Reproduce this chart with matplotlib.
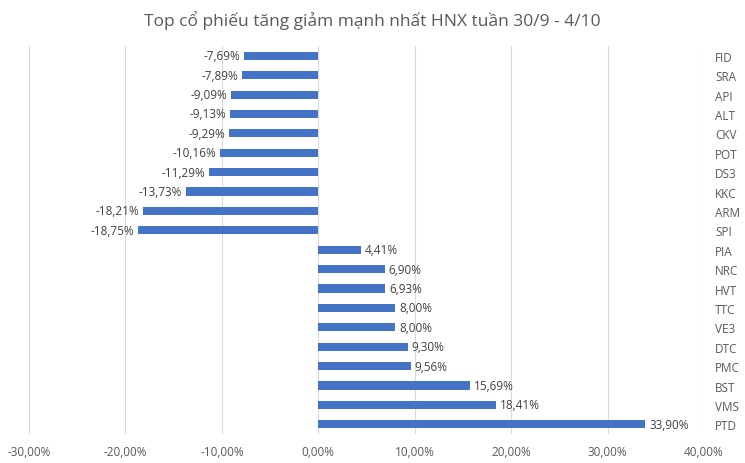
import matplotlib.pyplot as plt
from matplotlib.ticker import FuncFormatter

tickers = ['FID', 'SRA', 'API', 'ALT', 'CKV', 'POT', 'DS3', 'KKC', 'ARM', 'SPI',
           'PIA', 'NRC', 'HVT', 'TTC', 'VE3', 'DTC', 'PMC', 'BST', 'VMS', 'PTD']
changes = [-7.69, -7.89, -9.09, -9.13, -9.29, -10.16, -11.29, -13.73, -18.21, -18.75,
           4.41, 6.90, 6.93, 8.00, 8.00, 9.30, 9.56, 15.69, 18.41, 33.90]
title = 'Top cổ phiếu tăng giảm mạnh nhất HNX tuần 30/9 - 4/10'


def pct(v):
    return f'{v:.2f}%'.replace('.', ',')


def main():
    plt.rcParams['font.family'] = ['Open Sans', 'DejaVu Sans']
    fig = plt.figure(figsize=(7.45, 4.64), dpi=100)
    ax = fig.add_axes([0.039, 0.0625, 0.906, 0.836])

    y = list(range(len(tickers)))
    ax.barh(y, changes, height=0.42, color='#4472c4', zorder=2)
    ax.set_ylim(len(tickers) - 0.5, -0.5)
    ax.set_xlim(-30, 40)
    ax.set_xticks(range(-30, 41, 10))
    ax.xaxis.set_major_formatter(FuncFormatter(lambda v, _: pct(v)))
    ax.grid(axis='x', color='#d9d9d9', linewidth=0.8, zorder=0)
    ax.set_axisbelow(True)
    for s in ax.spines.values():
        s.set_visible(False)

    ax.yaxis.tick_right()
    ax.set_yticks(y)
    ax.set_yticklabels(tickers)
    ax.tick_params(axis='y', length=0, pad=8, labelsize=8.5, labelcolor='#595959')
    ax.tick_params(axis='x', length=0, pad=8, labelsize=8.5, labelcolor='#595959')

    for yi, v in zip(y, changes):
        if v < 0:
            ax.text(v - 0.4, yi, pct(v), ha='right', va='center', fontsize=8.5, color='#404040')
        else:
            ax.text(v + 0.4, yi, pct(v), ha='left', va='center', fontsize=8.5, color='#404040')

    fig.text(0.5, 0.955, title, ha='center', va='center', fontsize=12.5, color='#595959')
    fig.savefig('out.png', dpi=100)


if __name__ == '__main__':
    main()
